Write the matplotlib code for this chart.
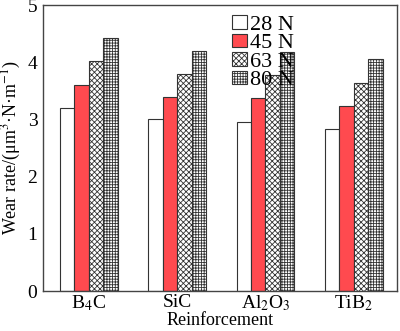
import matplotlib
matplotlib.use("Agg")
import matplotlib.pyplot as plt
import numpy as np

plt.rcParams['font.family'] = ['Liberation Serif', 'DejaVu Serif']
plt.rcParams['mathtext.fontset'] = 'stix'
plt.rcParams['hatch.linewidth'] = 0.6

categories = ['B$_4$C', 'SiC', 'Al$_2$O$_3$', 'TiB$_2$']
loads = ['28 N', '45 N', '63 N', '80 N']
v28 = [3.20, 3.00, 2.96, 2.83]
v45 = [3.60, 3.40, 3.37, 3.23]
v63 = [4.02, 3.80, 3.77, 3.63]
v80 = [4.42, 4.20, 4.17, 4.05]
series = [v28, v45, v63, v80]

colors = ['white', '#ff4a4f', 'white', 'white']
hatches = [None, None, 'xxxxxx', '++++++']

fig = plt.figure(figsize=(4.0, 3.31), dpi=100)
ax = fig.add_axes([43/400, 1-291/331, (397-43)/400, (291-5)/331])
x = np.arange(len(categories))
w = 0.164
for i, (vals, c, h, lab) in enumerate(zip(series, colors, hatches, loads)):
    ax.bar(x + (i - 1.5) * w, vals, w, color=c, edgecolor='#333333',
           linewidth=0.8, hatch=h, label=lab)

ax.set_xlim(-0.52, 3.49)
ax.set_ylim(0, 5)
ax.set_xticks(x)
ax.set_xticklabels(categories, fontsize=14)
ax.set_yticks([0, 1, 2, 3, 4, 5])
ax.tick_params(axis='y', length=0, labelsize=14, pad=4)
ax.tick_params(axis='x', length=0, labelsize=14, pad=2)
ax.set_xlabel('Reinforcement', fontsize=13, labelpad=-1)
ax.set_ylabel('Wear rate/(μm$^3$·N·m$^{-1}$)', fontsize=13, labelpad=3)
for s in ax.spines.values():
    s.set_color('#444444')
    s.set_linewidth(1.0)

leg = ax.legend(loc='upper left', bbox_to_anchor=(0.495, 1.01), frameon=False,
                fontsize=16, handlelength=0.7, handleheight=0.55,
                handletextpad=0.15, labelspacing=-0.05, borderaxespad=0.2)

fig.savefig('out.png', dpi=100)
